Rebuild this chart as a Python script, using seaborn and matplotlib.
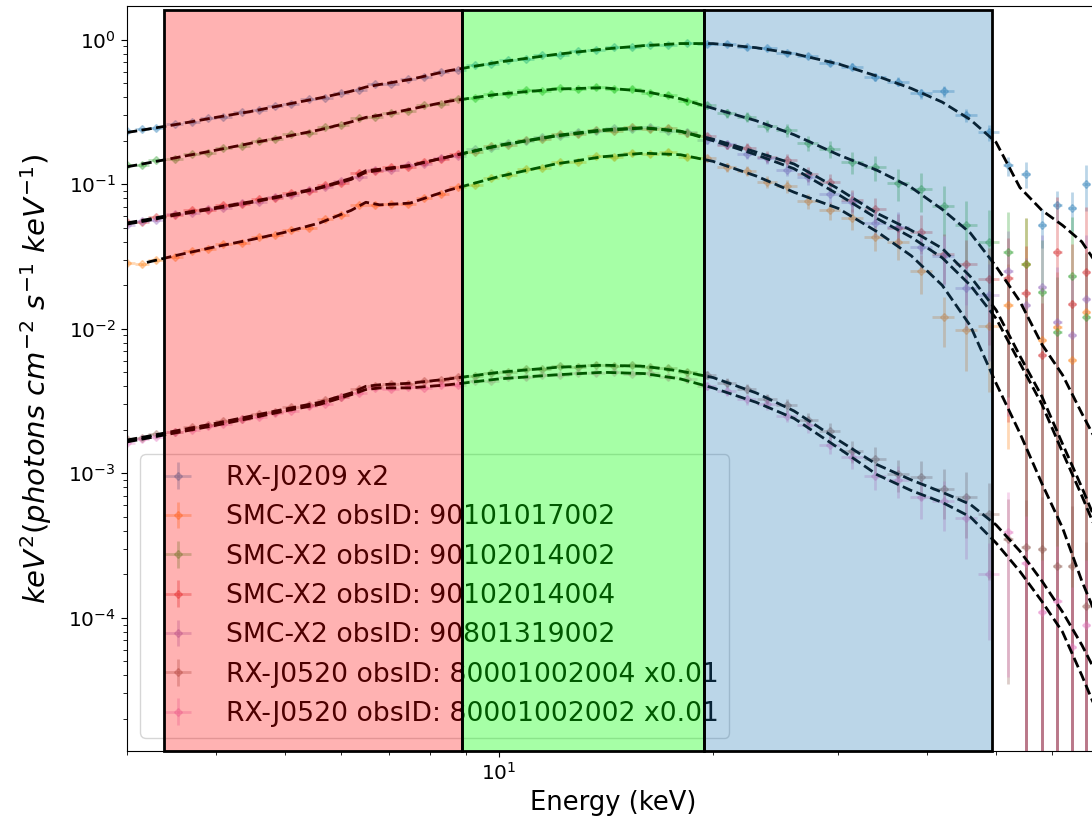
import numpy as np
import seaborn as sns
import matplotlib.pyplot as plt
from matplotlib.patches import Rectangle

# energy bins of the spectra (keV)
energy = [3.0, 3.15, 3.3, 3.5, 3.7, 3.9, 4.1, 4.35, 4.6, 4.85,
          5.1, 5.4, 5.7, 6.0, 6.35, 6.7, 7.05, 7.45, 7.85, 8.3,
          8.75, 9.25, 9.75, 10.3, 10.9, 11.5, 12.2, 12.9, 13.7, 14.5,
          15.4, 16.3, 17.3, 18.4, 19.6, 20.9, 22.3, 23.8, 25.4, 27.2,
          29.2, 31.4, 33.8, 36.4, 39.2, 42.2, 45.4, 48.8, 52.0, 55.0,
          58.0, 61.0, 64.0, 67.0]
energy_err = [0.075, 0.075, 0.09, 0.1, 0.1, 0.1, 0.11, 0.12, 0.12, 0.125,
              0.14, 0.15, 0.15, 0.16, 0.17, 0.17, 0.19, 0.2, 0.21, 0.22,
              0.24, 0.25, 0.26, 0.29, 0.3, 0.32, 0.35, 0.37, 0.4, 0.42,
              0.45, 0.48, 0.52, 0.57, 0.62, 0.67, 0.72, 0.77, 0.85, 0.92,
              1.0, 1.1, 1.2, 1.3, 1.4, 1.5, 1.6, 1.6, 0.8, 0.8,
              0.8, 0.8, 0.8, 0.8]

# fractional 1-sigma errors
rel_err_bright = [0.02, 0.02, 0.02, 0.02, 0.02, 0.02, 0.02, 0.02, 0.02, 0.02,
                  0.02, 0.02, 0.02, 0.02, 0.02, 0.02, 0.02, 0.02, 0.02, 0.02,
                  0.02, 0.02, 0.02, 0.02, 0.02, 0.02, 0.02, 0.02, 0.025, 0.025,
                  0.025, 0.025, 0.03, 0.03, 0.03, 0.035, 0.035, 0.04, 0.04, 0.045,
                  0.05, 0.055, 0.06, 0.07, 0.08, 0.09, 0.1, 0.12, 0.15, 0.2,
                  0.3, 0.25, 0.3, 0.35]
rel_err_faint = [0.03, 0.03, 0.03, 0.03, 0.03, 0.03, 0.03, 0.03, 0.03, 0.03,
                 0.03, 0.03, 0.03, 0.03, 0.03, 0.03, 0.03, 0.03, 0.03, 0.03,
                 0.03, 0.03, 0.03, 0.03, 0.035, 0.035, 0.035, 0.04, 0.04, 0.04,
                 0.045, 0.045, 0.05, 0.055, 0.06, 0.07, 0.08, 0.09, 0.1, 0.12,
                 0.14, 0.17, 0.2, 0.25, 0.3, 0.38, 0.48, 0.65, 0.9, 1.1,
                 1.3, 1.4, 1.6, 1.8]

rxj0209 = [0.232, 0.240, 0.244, 0.262, 0.268, 0.287, 0.293, 0.316, 0.324, 0.348,
           0.357, 0.386, 0.398, 0.431, 0.448, 0.490, 0.496, 0.533, 0.548, 0.601,
           0.618, 0.663, 0.679, 0.724, 0.738, 0.779, 0.788, 0.831, 0.842, 0.884,
           0.889, 0.925, 0.921, 0.948, 0.932, 0.936, 0.886, 0.871, 0.806, 0.775,
           0.690, 0.652, 0.552, 0.512, 0.425, 0.440, 0.300, 0.228, 0.135, 0.118,
           0.052, 0.072, 0.068, 0.100]
smc_017002 = [0.0285, 0.0279, 0.0301, 0.0316, 0.0345, 0.0355, 0.0385, 0.0394, 0.0433, 0.0442,
              0.0484, 0.0496, 0.0571, 0.0608, 0.0716, 0.0718, 0.0735, 0.0727, 0.0806, 0.0855,
              0.0958, 0.0992, 0.111, 0.115, 0.128, 0.129, 0.143, 0.143, 0.156, 0.154,
              0.165, 0.161, 0.166, 0.155, 0.151, 0.131, 0.124, 0.104, 0.097, 0.077,
              0.066, 0.058, 0.043, 0.040, 0.025, 0.012, 0.0098, 0.0105, 0.0147, 0.028,
              0.0084, 0.0103, 0.0061, 0.013]
smc_014002 = [0.135, 0.136, 0.146, 0.150, 0.163, 0.165, 0.179, 0.184, 0.200, 0.204,
              0.221, 0.227, 0.247, 0.255, 0.285, 0.294, 0.312, 0.323, 0.351, 0.361,
              0.390, 0.392, 0.420, 0.421, 0.446, 0.441, 0.465, 0.454, 0.471, 0.455,
              0.456, 0.426, 0.414, 0.374, 0.351, 0.310, 0.294, 0.254, 0.236, 0.194,
              0.176, 0.142, 0.131, 0.102, 0.092, 0.071, 0.052, 0.040, 0.034, 0.028,
              0.018, 0.0095, 0.023, 0.012]
smc_014004 = [0.0550, 0.0552, 0.0596, 0.0611, 0.0660, 0.0667, 0.0715, 0.0729, 0.0787, 0.0804,
              0.0869, 0.0899, 0.0990, 0.1025, 0.119, 0.124, 0.131, 0.132, 0.143, 0.149,
              0.163, 0.167, 0.183, 0.187, 0.203, 0.205, 0.221, 0.222, 0.237, 0.234,
              0.247, 0.240, 0.243, 0.225, 0.215, 0.187, 0.179, 0.155, 0.147, 0.118,
              0.104, 0.078, 0.067, 0.050, 0.047, 0.033, 0.028, 0.022, 0.0225, 0.0178,
              0.0066, 0.034, 0.0149, 0.0247]
smc_319002 = [0.0520, 0.0561, 0.0567, 0.0618, 0.0630, 0.0675, 0.0686, 0.0738, 0.0757, 0.0815,
              0.0838, 0.0914, 0.0955, 0.1045, 0.113, 0.126, 0.126, 0.135, 0.138, 0.153,
              0.158, 0.174, 0.178, 0.194, 0.198, 0.213, 0.216, 0.231, 0.232, 0.245,
              0.241, 0.249, 0.234, 0.230, 0.202, 0.189, 0.162, 0.152, 0.126, 0.113,
              0.085, 0.075, 0.054, 0.051, 0.037, 0.032, 0.019, 0.017, 0.025, 0.0147,
              0.0195, 0.0112, 0.009, 0.016]
rxj0520_004 = [0.00172, 0.00175, 0.00187, 0.00194, 0.00209, 0.00215, 0.00230, 0.00238, 0.00259, 0.00267,
               0.00287, 0.00296, 0.00322, 0.00338, 0.00385, 0.00402, 0.00417, 0.00415, 0.00437, 0.00439,
               0.00464, 0.00468, 0.00496, 0.00502, 0.00528, 0.00529, 0.00551, 0.00546, 0.00564, 0.00554,
               0.00559, 0.00541, 0.00536, 0.00499, 0.00478, 0.00424, 0.00386, 0.00325, 0.00296, 0.00234,
               0.00196, 0.00143, 0.00126, 0.00099, 0.00094, 0.00078, 0.00069, 0.00052, 0.00035, 0.00031,
               0.00030, 0.00023, 0.00023, 0.00012]
rxj0520_002 = [0.00163, 0.00174, 0.00178, 0.00192, 0.00198, 0.00212, 0.00218, 0.00237, 0.00245, 0.00263,
               0.00272, 0.00294, 0.00304, 0.00337, 0.00361, 0.00390, 0.00385, 0.00394, 0.00392, 0.00411,
               0.00411, 0.00435, 0.00438, 0.00462, 0.00461, 0.00481, 0.00477, 0.00497, 0.00491, 0.00506,
               0.00490, 0.00494, 0.00463, 0.00448, 0.00401, 0.00369, 0.00325, 0.00300, 0.00250, 0.00216,
               0.00158, 0.00130, 0.00096, 0.00090, 0.00069, 0.00064, 0.00049, 0.00020, 0.00039, 0.00024,
               0.00011, 0.00013, 0.000063, 0.00009]

# best-fit models
energy_model = [3.0, 3.2, 3.5, 4.0, 4.5, 5.0, 5.6, 6.2, 6.5, 6.8, 7.5, 8.5, 10, 12, 14, 16,
                18, 20, 23, 26, 30, 34, 38, 42, 46, 50, 54, 58, 62, 66, 70, 76]
model_rxj0209 = [0.228, 0.24, 0.258, 0.29, 0.32, 0.355, 0.395, 0.44, 0.47, 0.49, 0.53, 0.61, 0.70, 0.79, 0.86, 0.91,
                 0.94, 0.94, 0.88, 0.80, 0.68, 0.56, 0.46, 0.37, 0.28, 0.195, 0.095, 0.066, 0.052, 0.040, 0.026, 0.014]
model_017002 = [np.nan, 0.0288, 0.032, 0.037, 0.0415, 0.0465, 0.054, 0.066, 0.075, 0.072, 0.074, 0.091, 0.113, 0.138, 0.155, 0.164,
                0.16, 0.144, 0.114, 0.088, 0.068, 0.047, 0.032, 0.02, 0.0105, 0.0042, 0.0019, 0.00085, 0.00042, 0.00018, 0.00009, 0.00003]
model_014002 = [0.132, 0.14, 0.152, 0.172, 0.193, 0.213, 0.238, 0.27, 0.29, 0.30, 0.33, 0.375, 0.42, 0.455, 0.465, 0.44,
                0.39, 0.335, 0.275, 0.22, 0.16, 0.125, 0.095, 0.067, 0.046, 0.027, 0.0155, 0.0078, 0.0048, 0.0026, 0.0015, 0.0007]
model_014004 = [0.054, 0.057, 0.062, 0.069, 0.076, 0.084, 0.095, 0.11, 0.124, 0.127, 0.135, 0.155, 0.185, 0.215, 0.235, 0.245,
                0.232, 0.205, 0.167, 0.138, 0.093, 0.063, 0.048, 0.036, 0.023, 0.0135, 0.0065, 0.0034, 0.0016, 0.0008, 0.0004, 0.00015]
model_319002 = [0.053, 0.056, 0.061, 0.068, 0.075, 0.083, 0.094, 0.108, 0.121, 0.125, 0.134, 0.155, 0.186, 0.217, 0.238, 0.246,
                0.233, 0.2, 0.16, 0.128, 0.085, 0.058, 0.043, 0.031, 0.02, 0.0118, 0.0058, 0.003, 0.0014, 0.0007, 0.00035, 0.00013]
model_0520_004 = [0.0017, 0.0018, 0.00196, 0.00222, 0.0025, 0.00278, 0.0031, 0.0036, 0.004, 0.0041, 0.0042, 0.0045, 0.005, 0.0054, 0.0056, 0.0055,
                  0.0051, 0.0046, 0.0036, 0.0027, 0.0017, 0.00115, 0.0009, 0.00074, 0.00061, 0.00044, 0.00029, 0.00018, 0.00011, 0.000065, 0.000037, 0.000016]
model_0520_002 = [0.00165, 0.00175, 0.0019, 0.00215, 0.00242, 0.0027, 0.003, 0.0035, 0.0038, 0.0039, 0.0039, 0.0041, 0.0045, 0.0048, 0.005, 0.0049,
                  0.0045, 0.0039, 0.0031, 0.0024, 0.0015, 0.00098, 0.00076, 0.00063, 0.0005, 0.00033, 0.00021, 0.00013, 0.00008, 0.00004, 0.00002, 0.000008]

labels = ["RX-J0209 x2",
          "SMC-X2 obsID: 90101017002",
          "SMC-X2 obsID: 90102014002",
          "SMC-X2 obsID: 90102014004",
          "SMC-X2 obsID: 90801319002",
          "RX-J0520 obsID: 80001002004 x0.01",
          "RX-J0520 obsID: 80001002002 x0.01"]
spectra = [rxj0209, smc_017002, smc_014002, smc_014004, smc_319002, rxj0520_004, rxj0520_002]
models = [model_rxj0209, model_017002, model_014002, model_014004, model_319002, model_0520_004, model_0520_002]
errs = [rel_err_bright, rel_err_faint, rel_err_faint, rel_err_faint, rel_err_faint, rel_err_faint, rel_err_faint]

# energy bands shaded on top
band_edges = [3.38, 8.87, 19.4, 49.4]
band_colors = [(1.0, 0.0, 0.0, 0.3), (0.0, 1.0, 0.0, 0.35), (0.12, 0.47, 0.71, 0.3)]

colors = sns.color_palette("tab10")

fig = plt.figure(figsize=(10.92, 8.30), dpi=100)
# right spine falls just outside the saved picture
ax = fig.add_axes([127 / 1092, 79 / 830, 973 / 1092, 745 / 830])
ax.set_xscale('log')
ax.set_yscale('log')

for i in range(len(spectra)):
    y = np.array(spectra[i])
    ax.errorbar(energy, y, yerr=y * np.array(errs[i]), xerr=energy_err, fmt='D', ms=4,
                color=colors[i], alpha=0.3, elinewidth=2, label=labels[i], zorder=2)

for m in models:
    sns.lineplot(x=energy_model, y=m, ax=ax, color='black', linestyle='--', lw=2,
                 zorder=3, legend=False)

ax.set_xlim(3.0, 70)
ax.set_ylim(1.2e-5, 1.71)

ax.legend(loc='lower left', fontsize=19.2)

trans = ax.get_xaxis_transform()
for i in range(3):
    x0, x1 = band_edges[i], band_edges[i + 1]
    ax.add_patch(Rectangle((x0, 0.0), x1 - x0, 0.994, transform=trans,
                           facecolor=band_colors[i], edgecolor='black', lw=2,
                           zorder=6, clip_on=False))

ax.set_xlabel("Energy (keV)", fontsize=18.5)
ax.set_ylabel(r"$keV^2(photons\ cm^{-2}\ s^{-1}\ keV^{-1})$", fontsize=21, labelpad=10)
ax.tick_params(which='major', labelsize=14.5, length=4.5)
ax.tick_params(which='minor', length=3)

fig.savefig("out.png", dpi=100)
